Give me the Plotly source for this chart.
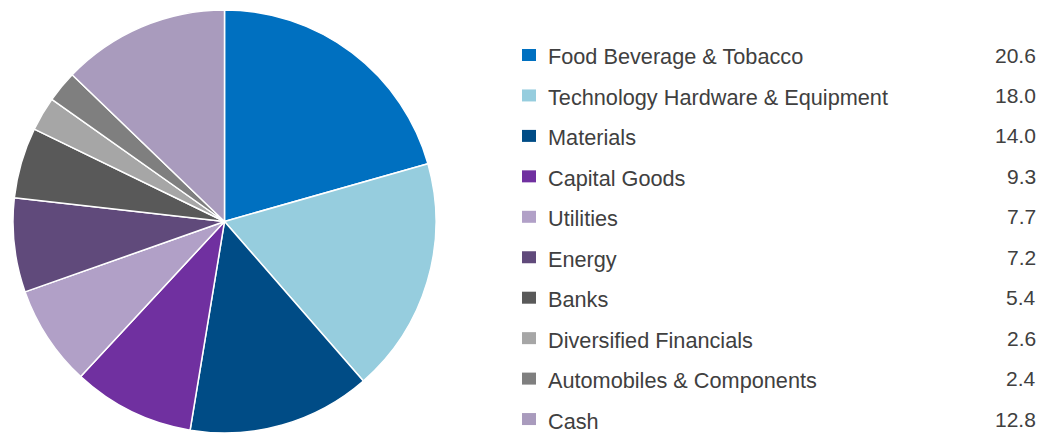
import plotly.graph_objects as go

categories = ["Food Beverage & Tobacco", "Technology Hardware & Equipment", "Materials",
              "Capital Goods", "Utilities", "Energy", "Banks", "Diversified Financials",
              "Automobiles & Components", "Cash"]
values = [20.6, 18.0, 14.0, 9.3, 7.7, 7.2, 5.4, 2.6, 2.4, 12.8]
value_labels = ["20.6", "18.0", "14.0", "9.3", "7.7", "7.2", "5.4", "2.6", "2.4", "12.8"]
colors = ["#0070C0", "#96CDDE", "#004C86", "#7030A0", "#B1A0C7", "#604A7B",
          "#595959", "#A6A6A6", "#7F7F7F", "#A99BBD"]

# page body has an 8px margin; work in figure pixels = reference pixels - 8
OFF = 8
W, H = 1055 - OFF, 433 - OFF


def px(x):
    return (x - OFF) / W


def py(y):
    return 1 - (y - OFF) / H


fig = go.Figure(go.Pie(
    labels=categories, values=values, sort=False, direction="clockwise", rotation=0,
    marker=dict(colors=colors, line=dict(color="white", width=1.5)),
    textinfo="none", hoverinfo="label+value", showlegend=False,
    domain=dict(x=[px(11), px(438)], y=[0, py(10)]),
))

annotations = []
shapes = []
row0, step = 57, 40.45
name_font = dict(family="Liberation Sans, Arial", size=21.7, color="#404040")
value_font = dict(family="Liberation Sans, Arial", size=21, color="#404040")
for i, (name, lab, col) in enumerate(zip(categories, value_labels, colors)):
    yc = row0 + i * step
    annotations.append(dict(x=px(546), y=py(yc), xref="paper", yref="paper",
                            text=name, showarrow=False, xanchor="left", yanchor="middle",
                            font=name_font))
    annotations.append(dict(x=px(1038), y=py(yc - 2), xref="paper", yref="paper",
                            text=lab, showarrow=False, xanchor="right", yanchor="middle",
                            font=value_font))
    shapes.append(dict(type="rect", xref="paper", yref="paper",
                       x0=px(522), x1=px(536), y0=py(yc + 4), y1=py(yc - 8),
                       fillcolor=col, line=dict(width=0)))

fig.update_layout(width=W, height=H, margin=dict(l=0, r=0, t=0, b=0),
                  paper_bgcolor="white", plot_bgcolor="white",
                  annotations=annotations, shapes=shapes)
fig.write_html("out.html")
